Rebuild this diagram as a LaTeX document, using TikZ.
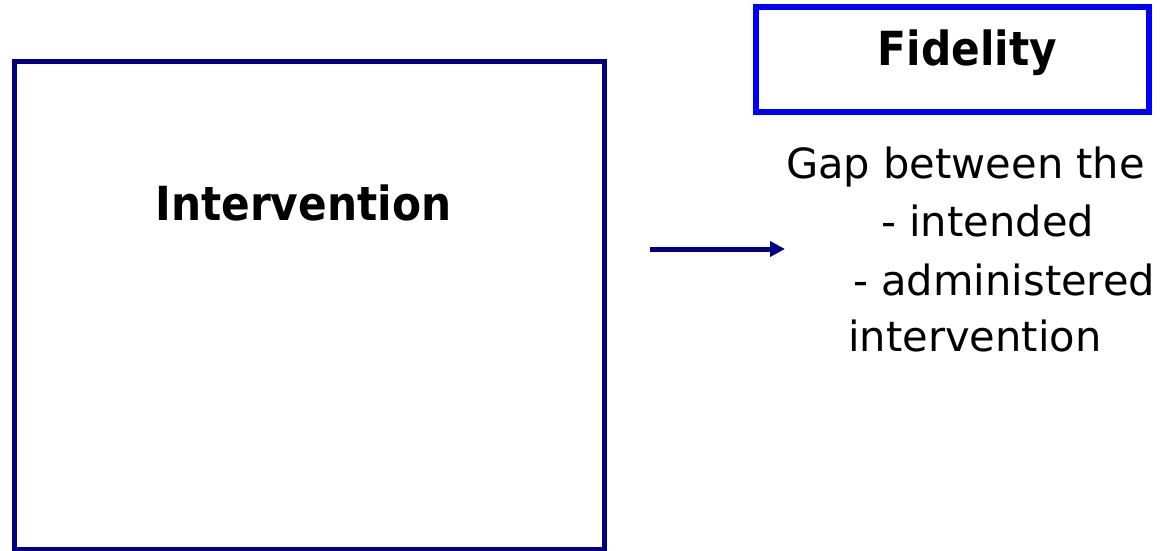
\documentclass[tikz,border=0pt]{standalone}
\usepackage{fontspec}
\usepackage{graphicx}
\setmainfont{DejaVu Sans}
\usetikzlibrary{arrows.meta}
\definecolor{navybox}{RGB}{0,0,128}
\definecolor{bluebox}{RGB}{0,0,255}
\begin{document}
\begin{tikzpicture}[x=1pt,y=-1pt,
  framebox/.style={draw, rectangle, inner sep=0pt, outer sep=0pt},
  boldlabel/.style={font=\fontsize{47}{56}\selectfont\bfseries, inner sep=0pt, anchor=base},
  bodyline/.style={font=\fontsize{41.6}{50}\selectfont, inner sep=0pt, anchor=base west},
  linkarrow/.style={draw=navybox, line width=5pt, -{Triangle[length=15pt,width=15pt]}}
]
\useasboundingbox (0,0) rectangle (1176,550);
\fill[white] (0,0) rectangle (1176,550);
\node[framebox, draw=navybox, line width=5.5pt, minimum width=590.2pt, minimum height=488pt] (interv) at (309.6,305.5) {};
\node[framebox, draw=bluebox, line width=5.5pt, minimum width=393pt, minimum height=105pt] (fidbox) at (952.5,59.5) {};
\node[boldlabel] (intervlabel) at (303.3,220.7) {\scalebox{0.9}[1]{Intervention}};
\node[boldlabel] (fidlabel) at (967.5,65) {\scalebox{0.9}[1]{Fidelity}};
\node[bodyline] (gap1) at (786,178.3) {Gap between the};
\node[bodyline] (gap2) at (881,236.7) {- intended};
\node[bodyline] (gap3) at (853,295) {- administered};
\node[bodyline] (gap4) at (848,351.7) {intervention};
\coordinate (arrstart) at (650,249);
\coordinate (arrend) at (785,249);
\draw[linkarrow] (arrstart) -- (arrend);
\end{tikzpicture}
\end{document}
